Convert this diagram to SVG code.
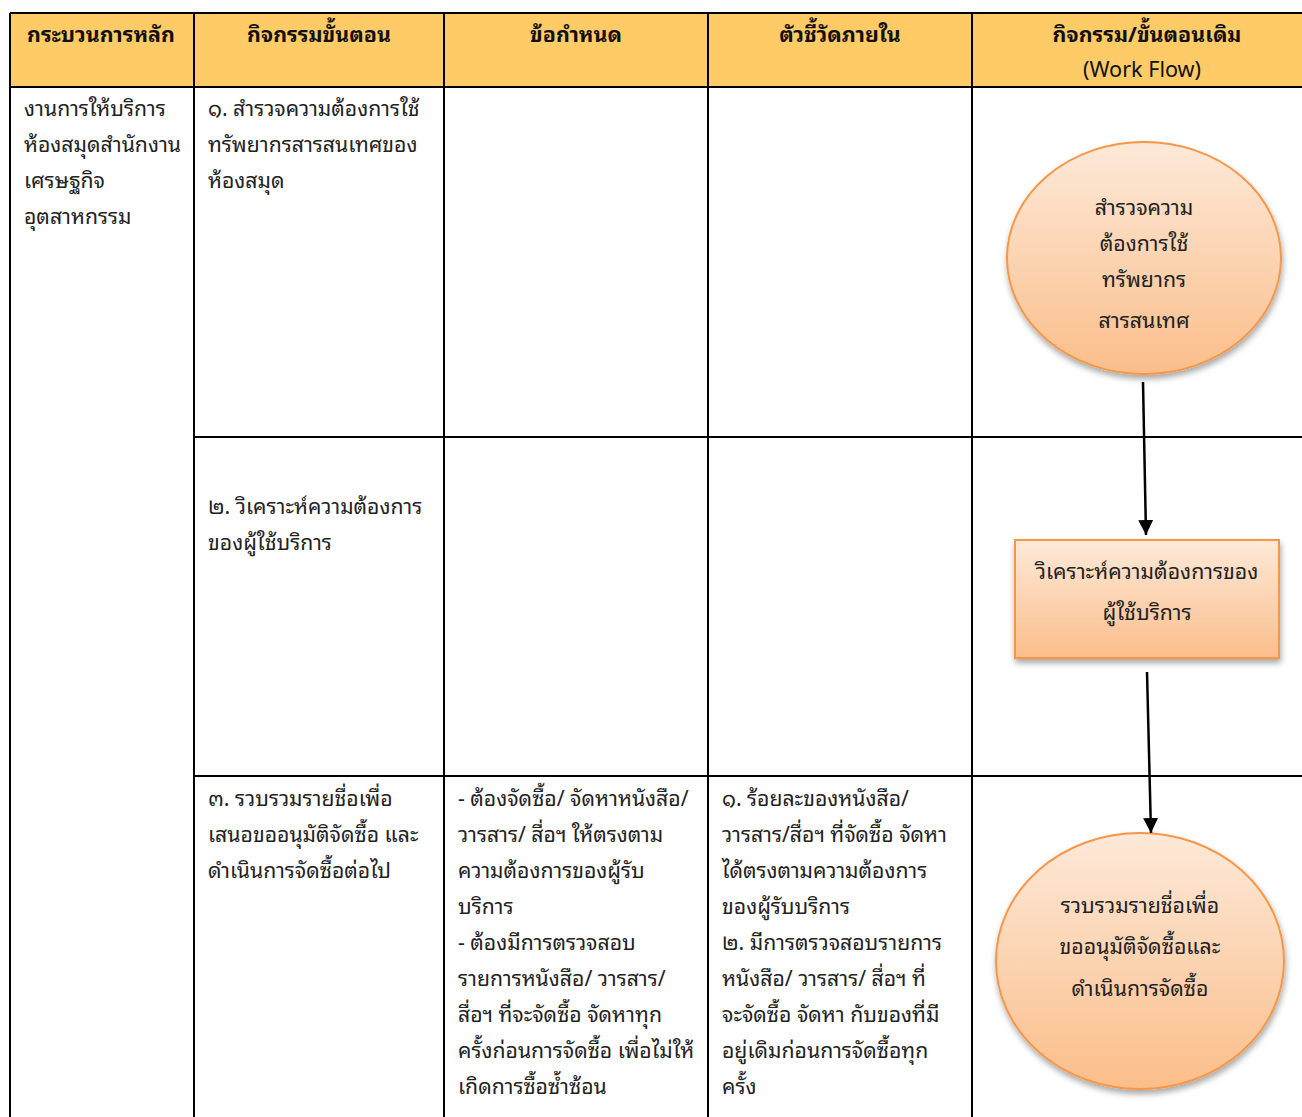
<svg xmlns="http://www.w3.org/2000/svg" width="1302" height="1117" viewBox="0 0 1302 1117">
  <style>
    .hd{font-family:"Noto Sans Thai Looped","Noto Sans Thai","Noto Sans","DejaVu Sans",sans-serif;font-size:21.4px;font-weight:bold;fill:#111;text-anchor:middle}
    .hn{font-family:"Noto Sans Thai Looped","Noto Sans Thai","Noto Sans","DejaVu Sans",sans-serif;font-size:21.6px;fill:#111;text-anchor:middle}
    .tx{font-family:"Noto Sans Thai Looped","Noto Sans Thai","Noto Sans","DejaVu Sans",sans-serif;font-size:21.2px;fill:#222}
    .nd{font-family:"Noto Sans Thai Looped","Noto Sans Thai","Noto Sans","DejaVu Sans",sans-serif;font-size:21.3px;fill:#222;text-anchor:middle}
    .ln{stroke:#000;stroke-width:2;fill:none}
    .shape{stroke:#F79646;stroke-width:2}
    .con{stroke:#000;stroke-width:2.5;fill:none}
  </style>
  <defs>
    <linearGradient id="g" x1="0" y1="0" x2="0" y2="1">
      <stop offset="0" stop-color="#FDE9D9"/>
      <stop offset="1" stop-color="#FBBE8A"/>
    </linearGradient>
    <filter id="sh" x="-20%" y="-20%" width="140%" height="140%">
      <feGaussianBlur in="SourceAlpha" stdDeviation="3"/>
      <feOffset dx="1" dy="4" result="b"/>
      <feComponentTransfer><feFuncA type="linear" slope="0.35"/></feComponentTransfer>
      <feMerge><feMergeNode/><feMergeNode in="SourceGraphic"/></feMerge>
    </filter>
    <marker id="ah" viewBox="0 0 10 10" refX="10" refY="5" markerWidth="6" markerHeight="6" markerUnits="strokeWidth" orient="auto">
      <path d="M0,0 L10,5 L0,10 z" fill="#000"/>
    </marker>
  </defs>
  <rect width="1302" height="1117" fill="#fff"/>

  <g id="table">
    <rect x="10" y="13" width="1302" height="74" fill="#FFCB66"/>
    <line class="ln" x1="10" y1="13" x2="1302" y2="13"/>
    <line class="ln" x1="10" y1="87" x2="1302" y2="87"/>
    <line class="ln" x1="194" y1="437" x2="1302" y2="437"/>
    <line class="ln" x1="194" y1="776" x2="1302" y2="776"/>
    <line class="ln" x1="10" y1="13" x2="10" y2="1117"/>
    <line class="ln" x1="194" y1="13" x2="194" y2="1117"/>
    <line class="ln" x1="444" y1="13" x2="444" y2="1117"/>
    <line class="ln" x1="708" y1="13" x2="708" y2="1117"/>
    <line class="ln" x1="972" y1="13" x2="972" y2="1117"/>
    <text class="hd" x="101" y="42">กระบวนการหลัก</text>
    <text class="hd" x="319" y="42">กิจกรรมขั้นตอน</text>
    <text class="hd" x="576" y="42">ข้อกำหนด</text>
    <text class="hd" x="840" y="42">ตัวชี้วัดภายใน</text>
    <text class="hd" x="1147" y="42">กิจกรรม/ขั้นตอนเดิม</text>
    <text class="hn" x="1142" y="77">(Work Flow)</text>

    <text class="tx" x="24" y="116">งานการให้บริการ</text>
    <text class="tx" x="24" y="152">ห้องสมุดสำนักงาน</text>
    <text class="tx" x="24" y="188">เศรษฐกิจ</text>
    <text class="tx" x="24" y="224">อุตสาหกรรม</text>

    <text class="tx" x="208" y="116">๑. สำรวจความต้องการใช้</text>
    <text class="tx" x="208" y="152">ทรัพยากรสารสนเทศของ</text>
    <text class="tx" x="208" y="188">ห้องสมุด</text>

    <text class="tx" x="208" y="514">๒. วิเคราะห์ความต้องการ</text>
    <text class="tx" x="208" y="550">ของผู้ใช้บริการ</text>

    <text class="tx" x="208" y="806">๓. รวบรวมรายชื่อเพื่อ</text>
    <text class="tx" x="208" y="842">เสนอขออนุมัติจัดซื้อ และ</text>
    <text class="tx" x="208" y="878">ดำเนินการจัดซื้อต่อไป</text>

    <text class="tx" x="458" y="806">- ต้องจัดซื้อ/ จัดหาหนังสือ/</text>
    <text class="tx" x="458" y="842">วารสาร/ สื่อฯ ให้ตรงตาม</text>
    <text class="tx" x="458" y="878">ความต้องการของผู้รับ</text>
    <text class="tx" x="458" y="914">บริการ</text>
    <text class="tx" x="458" y="950">- ต้องมีการตรวจสอบ</text>
    <text class="tx" x="458" y="986">รายการหนังสือ/ วารสาร/</text>
    <text class="tx" x="458" y="1022">สื่อฯ ที่จะจัดซื้อ จัดหาทุก</text>
    <text class="tx" x="458" y="1058">ครั้งก่อนการจัดซื้อ เพื่อไม่ให้</text>
    <text class="tx" x="458" y="1094">เกิดการซื้อซ้ำซ้อน</text>

    <text class="tx" x="722" y="806">๑. ร้อยละของหนังสือ/</text>
    <text class="tx" x="722" y="842">วารสาร/สื่อฯ ที่จัดซื้อ จัดหา</text>
    <text class="tx" x="722" y="878">ได้ตรงตามความต้องการ</text>
    <text class="tx" x="722" y="914">ของผู้รับบริการ</text>
    <text class="tx" x="722" y="950">๒. มีการตรวจสอบรายการ</text>
    <text class="tx" x="722" y="986">หนังสือ/ วารสาร/ สื่อฯ ที่</text>
    <text class="tx" x="722" y="1022">จะจัดซื้อ จัดหา กับของที่มี</text>
    <text class="tx" x="722" y="1058">อยู่เดิมก่อนการจัดซื้อทุก</text>
    <text class="tx" x="722" y="1094">ครั้ง</text>
  </g>

  <g id="n1">
    <ellipse class="shape" cx="1144" cy="258" rx="137" ry="116" fill="url(#g)" filter="url(#sh)"/>
    <text class="nd" x="1144" y="215">สำรวจความ</text>
    <text class="nd" x="1144" y="251">ต้องการใช้</text>
    <text class="nd" x="1144" y="287">ทรัพยากร</text>
    <text class="nd" x="1144" y="328">สารสนเทศ</text>
  </g>

  <g id="n2">
    <rect class="shape" x="1015" y="540" width="264" height="118" fill="url(#g)" filter="url(#sh)"/>
    <text class="nd" x="1147" y="579">วิเคราะห์ความต้องการของ</text>
    <text class="nd" x="1147" y="620">ผู้ใช้บริการ</text>
  </g>

  <g id="n3">
    <ellipse class="shape" cx="1140" cy="961" rx="144" ry="128" fill="url(#g)" filter="url(#sh)"/>
    <text class="nd" x="1140" y="913">รวบรวมรายชื่อเพื่อ</text>
    <text class="nd" x="1140" y="954">ขออนุมัติจัดซื้อและ</text>
    <text class="nd" x="1140" y="996">ดำเนินการจัดซื้อ</text>
  </g>

  <g id="connectors">
    <line class="con" x1="1143" y1="382" x2="1146" y2="535" marker-end="url(#ah)"/>
    <line class="con" x1="1147" y1="672" x2="1151" y2="833" marker-end="url(#ah)"/>
  </g>
</svg>
